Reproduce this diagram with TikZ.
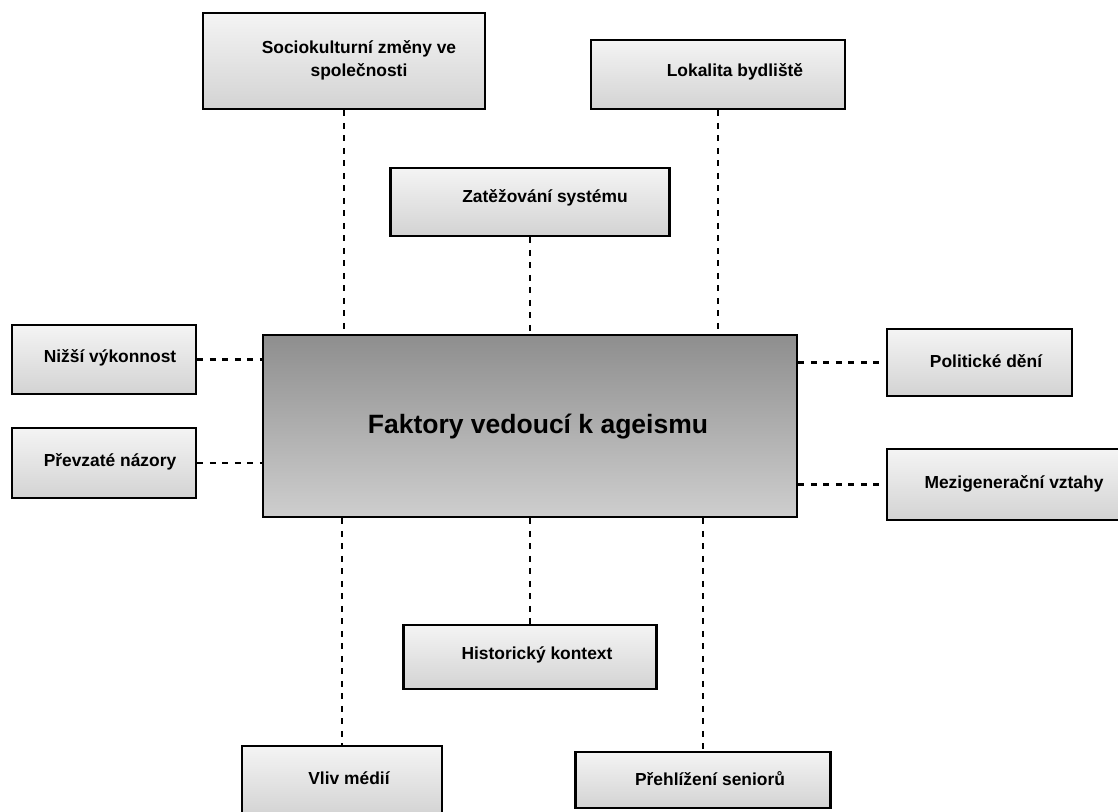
\documentclass[tikz,border=0pt]{standalone}
\usepackage{fontspec}
\setmainfont{Liberation Sans}
\usetikzlibrary{calc}

\definecolor{boxtop}{HTML}{F4F4F4}
\definecolor{boxbottom}{HTML}{D3D3D3}
\definecolor{maintop}{HTML}{8E8E8E}
\definecolor{mainbottom}{HTML}{CECECE}

\begin{document}
\begin{tikzpicture}[
        x=1pt, y=-1pt,
        factor box/.style={draw, line width=2.5pt, top color=boxtop, bottom color=boxbottom, inner sep=0pt},
        main box/.style={draw, line width=2.5pt, top color=maintop, bottom color=mainbottom, inner sep=0pt},
        box text/.style={font=\bfseries\fontsize{17.4}{23}\selectfont, align=center, inner sep=0pt},
        dashed line/.style={line width=2.2pt, dash pattern=on 6pt off 6.5pt},
    ]
    \clip (0,0) rectangle (1118,811);

    % central factor
    \node[main box, minimum width=534pt, minimum height=182pt] (fak) at (530,426) {};
    \node[box text, font=\bfseries\fontsize{26.5}{30}\selectfont] (fakt) at (538,427) {Faktory vedoucí k ageismu};

    % boxes above
    \node[factor box, minimum width=282pt, minimum height=96pt] (socio) at (344,61) {};
    \node[box text] (sociot) at (359,60) {Sociokulturní změny ve\\společnosti};

    \node[factor box, minimum width=254pt, minimum height=69pt] (lok) at (718,74.5) {};
    \node[box text] (lokt) at (735,72) {Lokalita bydliště};

    \node[factor box, minimum width=279pt, minimum height=68pt] (zat) at (530,202) {};
    \node[box text] (zatt) at (545,198) {Zatěžování systému};

    % boxes left
    \node[factor box, minimum width=184pt, minimum height=69pt] (nizsi) at (104,359.5) {};
    \node[box text] (nizsit) at (110,358) {Nižší výkonnost};

    \node[factor box, minimum width=184pt, minimum height=70pt] (prevz) at (104,463) {};
    \node[box text] (prevzt) at (110,462) {Převzaté názory};

    % boxes right
    \node[factor box, minimum width=185pt, minimum height=67pt] (polit) at (979.5,362.5) {};
    \node[box text] (politt) at (986,361) {Politické dění};

    \node[factor box, minimum width=240pt, minimum height=71pt] (mezi) at (1007,484.5) {};
    \node[box text] (mezit) at (1014,484) {Mezigenerační vztahy};

    % boxes below
    \node[factor box, minimum width=253pt, minimum height=64pt] (hist) at (530,657) {};
    \node[box text] (histt) at (537,655) {Historický kontext};

    \node[factor box, minimum width=200pt, minimum height=70pt] (vliv) at (342,781) {};
    \node[box text] (vlivt) at (349,778) {Vliv médií};

    \node[factor box, minimum width=255pt, minimum height=56pt] (prehl) at (703,780) {};
    \node[box text] (prehlt) at (710,779) {Přehlížení seniorů};

    % connectors
    \draw[dashed line] (socio.south) -- (socio.south |- fak.north);
    \draw[dashed line] (lok.south) -- (lok.south |- fak.north);
    \draw[dashed line] (zat.south) -- (zat.south |- fak.north);

    \draw[dashed line] (nizsi.east) -- (nizsi.east -| fak.west);
    \draw[dashed line] (prevz.east) -- (prevz.east -| fak.west);
    \draw[dashed line] (polit.west -| fak.east) -- (polit.west);
    \draw[dashed line] (mezi.west -| fak.east) -- (mezi.west);

    \draw[dashed line] (fak.south -| hist.north) -- (hist.north);
    \draw[dashed line] (fak.south -| vliv.north) -- (vliv.north);
    \draw[dashed line] (fak.south -| prehl.north) -- (prehl.north);

\end{tikzpicture}
\end{document}
